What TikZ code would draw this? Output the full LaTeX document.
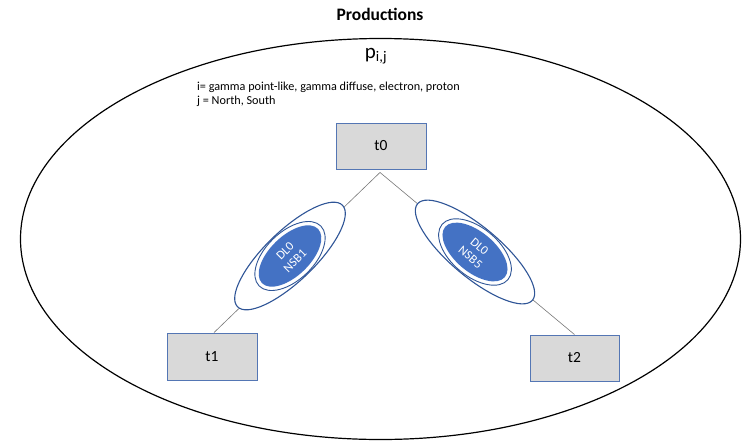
\documentclass[tikz,border=0pt]{standalone}
\usepackage{fontspec}
\setmainfont{Carlito}
\usetikzlibrary{shapes.geometric}
\definecolor{accentblue}{RGB}{68,114,196}
\definecolor{darkblue}{RGB}{47,85,151}
\definecolor{boxgray}{RGB}{217,217,217}
\definecolor{boxedge}{RGB}{84,118,180}
\definecolor{linkgray}{RGB}{120,120,120}
\tikzset{
  tbox/.style={draw=boxedge, line width=0.9pt, fill=boxgray, minimum width=90pt, minimum height=46pt, inner sep=0pt, font=\fontsize{15.5}{17}\selectfont},
  link/.style={draw=linkgray, line width=0.6pt},
  shell/.style={ellipse, draw=darkblue, line width=1.1pt, fill=white, inner sep=0pt},
  core/.style={ellipse, fill=accentblue, inner sep=0pt},
  corelabel/.style={text=white, align=center, font=\fontsize{12.5}{14}\selectfont, inner sep=0pt}
}
\begin{document}
\begin{tikzpicture}[x=1pt,y=-1pt]
\useasboundingbox (0,0) rectangle (742,440);

% enclosing production ellipse
\node[ellipse, draw=black, line width=1.2pt, minimum width=720pt, minimum height=401pt, inner sep=0pt] (prod) at (380.5,239) {};

% headings and text
\node[font=\bfseries\fontsize{17.5}{20}\selectfont] (title) at (380,14) {Productions};
\node[font=\fontsize{21}{24}\selectfont] (pij) at (376,56) {p\textsubscript{i,j}};
\node[anchor=west, align=left, font=\fontsize{12.2}{14}\selectfont, inner sep=0pt] (idx) at (197,94) {i= gamma point-like, gamma diffuse, electron, proton\\ j = North, South};

% tasks
\node[tbox] (t0) at (381,146) {t0};
\node[tbox, minimum height=47pt] (t1) at (212,356.5) {t1};
\node[tbox, minimum width=89pt] (t2) at (574.5,358) {t2};

% dependency links
\coordinate (fork) at ([yshift=-3pt,xshift=-1pt]t0.south);
\draw[link] (fork) -- ([xshift=2pt]t1.north);
\draw[link] (fork) -- (t2.north);

% left datalink
\node[shell, minimum width=146pt, minimum height=50pt, rotate=44] (dlA) at (290,256) {};
\node[shell, line width=0.9pt, minimum width=86pt, minimum height=48pt, rotate=44] (ringA) at (290,256) {};
\node[core, minimum width=78pt, minimum height=40pt, rotate=44] (coreA) at (290,256) {};
\node[corelabel, rotate=45] (labA) at (290,256) {DL0\\NSB1};

% right datalink
\node[shell, minimum width=150pt, minimum height=50pt, rotate=-40] (dlB) at (475,252) {};
\node[shell, line width=0.9pt, minimum width=86pt, minimum height=48pt, rotate=-40] (ringB) at (475,252) {};
\node[core, minimum width=78pt, minimum height=40pt, rotate=-40] (coreB) at (475,252) {};
\node[corelabel, rotate=-40] (labB) at (475,252) {DL0\\NSB5};
\end{tikzpicture}
\end{document}
